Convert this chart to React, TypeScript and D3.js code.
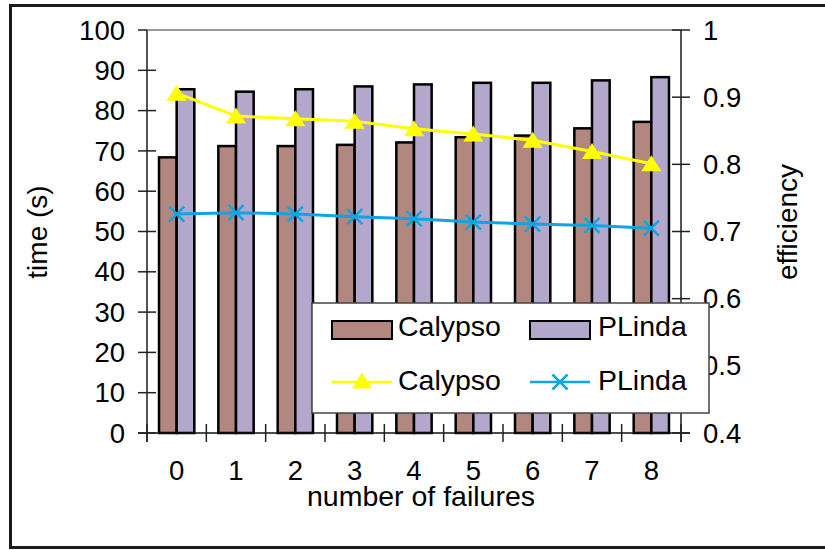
import React from 'react';
import * as d3 from 'd3';

const failures = ['0', '1', '2', '3', '4', '5', '6', '7', '8'];
const calypsoTime = [68.4, 71.2, 71.2, 71.5, 72.1, 73.4, 73.8, 75.6, 77.2];
const plindaTime = [85.3, 84.7, 85.3, 86.0, 86.5, 86.9, 86.9, 87.5, 88.3];
const calypsoEff = [0.906, 0.872, 0.868, 0.864, 0.853, 0.845, 0.836, 0.819, 0.801];
const plindaEff = [0.726, 0.728, 0.726, 0.722, 0.719, 0.714, 0.711, 0.709, 0.705];
const timeTicks = [0, 10, 20, 30, 40, 50, 60, 70, 80, 90, 100];
const effTicks = [0.4, 0.5, 0.6, 0.7, 0.8, 0.9, 1];

const BROWN = '#B2877F';
const PURPLE = '#B3A7CC';
const YELLOW = '#FFFF00';
const BLUE = '#0FA5E2';
const FONT = '"Liberation Sans", Arial, sans-serif';

const App = () => {
    // plot area
    const left = 147;
    const right = 681;
    const top = 30;
    const bottom = 433;

    const x = d3.scaleBand().domain(failures).range([left, right]).padding(0);
    const sub = d3.scaleBand().domain(['Calypso', 'PLinda']).range([0, x.bandwidth()]).paddingInner(0).paddingOuter(0.68);
    const yTime = d3.scaleLinear().domain([0, 100]).range([bottom, top]);
    const yEff = d3.scaleLinear().domain([0.4, 1]).range([bottom, top]);
    const cx = (d) => x(d) + x.bandwidth() / 2;

    const line = d3.line().x((d) => d[0]).y((d) => d[1]);
    const calypsoPts = failures.map((f, i) => [cx(f), yEff(calypsoEff[i])]);
    const plindaPts = failures.map((f, i) => [cx(f), yEff(plindaEff[i])]);

    const tri = (px, py, s = 10) => `M${px},${py - s * 0.85}L${px + s},${py + s * 0.75}L${px - s},${py + s * 0.75}Z`;
    const cross = (px, py, s = 7.5) => `M${px - s},${py - s}L${px + s},${py + s}M${px - s},${py + s}L${px + s},${py - s}`;

    const xTickPos = [...failures.map((f) => x(f)), right];

    return (
        <svg width={825} height={550} style={{position: 'absolute', left: 0, top: 0}} fontFamily={FONT}>
            <rect x={0} y={0} width={825} height={550} fill="#fff" />
            <rect x={10.5} y={5.5} width={830} height={542} fill="none" stroke="#1a1a1a" strokeWidth={3} />

            {/* top gridline */}
            <line x1={left} x2={right} y1={top} y2={top} stroke="#9a9a9a" strokeWidth={2} />

            {/* bars */}
            {failures.map((f, i) => (
                <g key={f}>
                    <rect x={x(f) + sub('Calypso')} y={yTime(calypsoTime[i])} width={sub.bandwidth()}
                          height={bottom - yTime(calypsoTime[i])} fill={BROWN} stroke="#000" strokeWidth={2.5} />
                    <rect x={x(f) + sub('PLinda')} y={yTime(plindaTime[i])} width={sub.bandwidth()}
                          height={bottom - yTime(plindaTime[i])} fill={PURPLE} stroke="#000" strokeWidth={2.5} />
                </g>
            ))}

            {/* axes */}
            <line x1={left} x2={left} y1={top} y2={bottom + 9} stroke="#555" strokeWidth={2} />
            <line x1={right} x2={right} y1={top} y2={bottom + 9} stroke="#555" strokeWidth={2} />
            <line x1={left - 9} x2={right + 9} y1={bottom} y2={bottom} stroke="#111" strokeWidth={1.5} />
            {timeTicks.map((t) => (
                <g key={'lt' + t}>
                    <line x1={left - 9} x2={t === 100 ? left : left + 9} y1={yTime(t)} y2={yTime(t)} stroke="#222" strokeWidth={1.5} />
                    <text x={125} y={yTime(t)} dy="0.35em" textAnchor="end" fontSize={27.5} fill="#000">{t}</text>
                </g>
            ))}
            {effTicks.map((t) => (
                <g key={'rt' + t}>
                    <line x1={right - 9} x2={right + 9} y1={yEff(t)} y2={yEff(t)} stroke="#222" strokeWidth={1.5} />
                    <text x={703} y={yEff(t)} dy="0.35em" textAnchor="start" fontSize={27.5} fill="#000">{d3.format('~g')(t)}</text>
                </g>
            ))}
            {xTickPos.map((p, i) => (
                <line key={'xt' + i} x1={p} x2={p} y1={bottom - 9} y2={bottom + 9} stroke="#222" strokeWidth={1.5} />
            ))}
            {failures.map((f) => (
                <text key={'xl' + f} x={cx(f)} y={480} textAnchor="middle" fontSize={27.5} fill="#000">{f}</text>
            ))}

            {/* efficiency lines */}
            <path d={line(calypsoPts)} fill="none" stroke={YELLOW} strokeWidth={3} />
            {calypsoPts.map((p, i) => <path key={'ct' + i} d={tri(p[0], p[1])} fill={YELLOW} />)}
            <path d={line(plindaPts)} fill="none" stroke={BLUE} strokeWidth={3} />
            {plindaPts.map((p, i) => <path key={'px' + i} d={cross(p[0], p[1])} fill="none" stroke={BLUE} strokeWidth={2.5} />)}

            {/* axis titles */}
            <text transform="translate(37,232) rotate(-90)" dy="0.35em" textAnchor="middle" fontSize={28} fill="#000">time (s)</text>
            <text transform="translate(787,222) rotate(-90)" dy="0.35em" textAnchor="middle" fontSize={28} fill="#000">efficiency</text>
            <text x={421} y={506} textAnchor="middle" fontSize={28.5} fill="#000">number of failures</text>

            {/* legend */}
            <rect x={312} y={303} width={397} height={110} fill="#fff" stroke="#444" strokeWidth={1.5} />
            <rect x={332} y={321} width={60} height={18} fill={BROWN} stroke="#000" strokeWidth={2} />
            <text x={398} y={336} fontSize={28.5} fill="#000">Calypso</text>
            <rect x={530} y={321} width={60} height={18} fill={PURPLE} stroke="#000" strokeWidth={2} />
            <text x={598} y={336} fontSize={28.5} fill="#000">PLinda</text>
            <line x1={332} x2={392} y1={382} y2={382} stroke={YELLOW} strokeWidth={2.5} />
            <path d={tri(362, 381)} fill={YELLOW} />
            <text x={398} y={390} fontSize={28.5} fill="#000">Calypso</text>
            <line x1={530} x2={590} y1={382} y2={382} stroke={BLUE} strokeWidth={2.5} />
            <path d={cross(560, 382)} fill="none" stroke={BLUE} strokeWidth={2.5} />
            <text x={598} y={390} fontSize={28.5} fill="#000">PLinda</text>
        </svg>
    );
};

export default App;
